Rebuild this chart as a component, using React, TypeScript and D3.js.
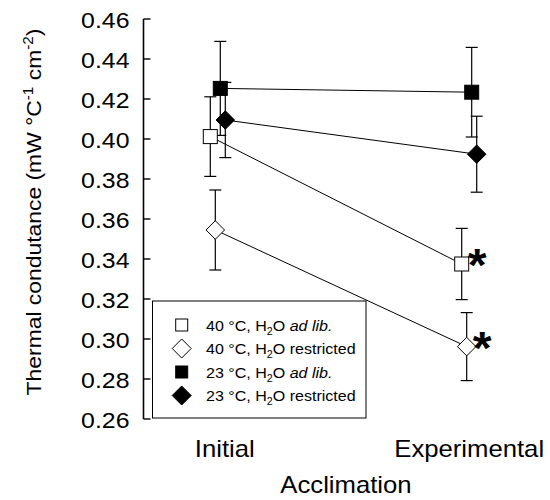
import React from "react";
import * as d3 from "d3";

const categories = ["Initial", "Experimental"];
const yTicks = [0.26, 0.28, 0.3, 0.32, 0.34, 0.36, 0.38, 0.4, 0.42, 0.44, 0.46];
const seriesTemp = ["40 °C", "40 °C", "23 °C", "23 °C"];
const seriesWater = ["ad lib.", "restricted", "ad lib.", "restricted"];
const seriesShape = ["square", "diamond", "square", "diamond"];
const seriesFilled = [false, false, true, true];
const meanOpenSquare = [0.4012, 0.3375];
const errOpenSquare = [0.0199, 0.0178];
const meanOpenDiamond = [0.3545, 0.2962];
const errOpenDiamond = [0.02, 0.017];
const meanFilledSquare = [0.4253, 0.4234];
const errFilledSquare = [0.0235, 0.0224];
const meanFilledDiamond = [0.4095, 0.3924];
const errFilledDiamond = [0.0188, 0.019];
const significant = [[false, true], [false, true], [false, false], [false, false]];

const means = [meanOpenSquare, meanOpenDiamond, meanFilledSquare, meanFilledDiamond];
const errs = [errOpenSquare, errOpenDiamond, errFilledSquare, errFilledDiamond];

const FONT = "'Liberation Sans', Arial, Helvetica, sans-serif";

function Marker({ shape, filled, x, y, size }: any) {
  const fill = filled ? "#000" : "#fff";
  if (shape === "square") {
    return <rect x={x - size / 2} y={y - size / 2} width={size} height={size} fill={fill} stroke="#000" strokeWidth={1} />;
  }
  const h = size / 2;
  return <path d={`M${x},${y - h}L${x + h},${y}L${x},${y + h}L${x - h},${y}Z`} fill={fill} stroke="#000" strokeWidth={1} />;
}

function Txt({ x, y, sx = 1.08, size, anchor = "start", rotate = 0, children, weight = "normal" }: any) {
  return (
    <g transform={`translate(${x},${y}) rotate(${rotate}) scale(${sx},1)`}>
      <text x={0} y={0} fontFamily={FONT} fontSize={size} textAnchor={anchor} fontWeight={weight} fill="#000">
        {children}
      </text>
    </g>
  );
}

export default function App() {
  const W = 550, H = 500;
  const y = d3.scaleLinear().domain([0.26, 0.46]).range([419, 19]);
  const x = d3.scalePoint<string>().domain(categories).range([217.8, 469.2]);
  const offsets = [-7.5, -2.5, 2.5, 7.5];
  const axisX = 143.5;
  const px = (s: number, i: number) => (x(categories[i]) as number) + offsets[s];

  const legendRows = [325, 348.5, 372, 395.5];

  return (
    <svg width={W} height={H} style={{ position: "absolute", left: 0, top: 0, background: "#fff" }}>
      <rect width={W} height={H} fill="#fff" />
      {/* y axis */}
      <line x1={axisX} x2={axisX} y1={y(0.26)} y2={y(0.46)} stroke="#000" strokeWidth={1.6} />
      {yTicks.map((t) => (
        <g key={t}>
          <line x1={axisX} x2={axisX + 7} y1={y(t)} y2={y(t)} stroke="#000" strokeWidth={1.4} />
          <Txt x={129.5} y={y(t) + 8.5} size={22} sx={1.13} anchor="end">
            {d3.format(".2f")(t)}
          </Txt>
        </g>
      ))}
      <Txt x={40.5} y={212} size={21} sx={1.09} anchor="middle" rotate={-90}>
        Thermal condutance (mW °C
        <tspan fontSize={14} dy={-8}>-1</tspan>
        <tspan dy={8}> cm</tspan>
        <tspan fontSize={14} dy={-8}>-2</tspan>
        <tspan dy={8}>)</tspan>
      </Txt>
      {/* category labels */}
      {categories.map((c, i) => (
        <Txt key={c} x={(x(c) as number) + (i === 0 ? 7 : 0)} y={457} size={24} sx={1.07} anchor="middle">
          {c}
        </Txt>
      ))}
      <Txt x={346} y={493} size={24} sx={1.07} anchor="middle">Acclimation</Txt>

      {/* connecting lines */}
      {means.map((m, s) => (
        <line key={"l" + s} x1={px(s, 0)} y1={y(m[0])} x2={px(s, 1)} y2={y(m[1])} stroke="#000" strokeWidth={1} />
      ))}
      {/* error bars */}
      {means.map((m, s) =>
        m.map((v, i) => {
          const cx = px(s, i);
          const top = y(v + errs[s][i]);
          const bot = y(v - errs[s][i]);
          return (
            <g key={"e" + s + i} stroke="#000" strokeWidth={1.2}>
              <line x1={cx} x2={cx} y1={top} y2={bot} />
              <line x1={cx - 6} x2={cx + 6} y1={top} y2={top} />
              <line x1={cx - 6} x2={cx + 6} y1={bot} y2={bot} />
            </g>
          );
        })
      )}
      {/* markers */}
      {means.map((m, s) =>
        m.map((v, i) => (
          <Marker key={"m" + s + i} shape={seriesShape[s]} filled={seriesFilled[s]} x={px(s, i)} y={y(v)} size={seriesShape[s] === "square" ? 14 : 18.5} />
        ))
      )}
      {/* significance */}
      {means.map((m, s) =>
        m.map((v, i) =>
          significant[s][i] ? (
            <Txt key={"a" + s + i} x={px(s, i) + 15.5} y={y(v) + 17} size={46} sx={1.05} anchor="middle" weight="bold">
              *
            </Txt>
          ) : null
        )
      )}
      {/* legend */}
      <rect x={152.5} y={301} width={213.5} height={117} fill="#fff" stroke="#000" strokeWidth={1} />
      {seriesTemp.map((t, s) => (
        <g key={"lg" + s}>
          <Marker shape={seriesShape[s]} filled={seriesFilled[s]} x={181.7} y={legendRows[s]} size={seriesShape[s] === "square" ? 12 : 19} />
          <Txt x={206} y={legendRows[s] + 5.5} size={15} sx={1.07}>
            {t}, H<tspan fontSize={10} dy={4}>2</tspan>
            <tspan dy={-4}>O </tspan>
            <tspan fontStyle={seriesWater[s] === "ad lib." ? "italic" : "normal"}>{seriesWater[s]}</tspan>
          </Txt>
        </g>
      ))}
    </svg>
  );
}
